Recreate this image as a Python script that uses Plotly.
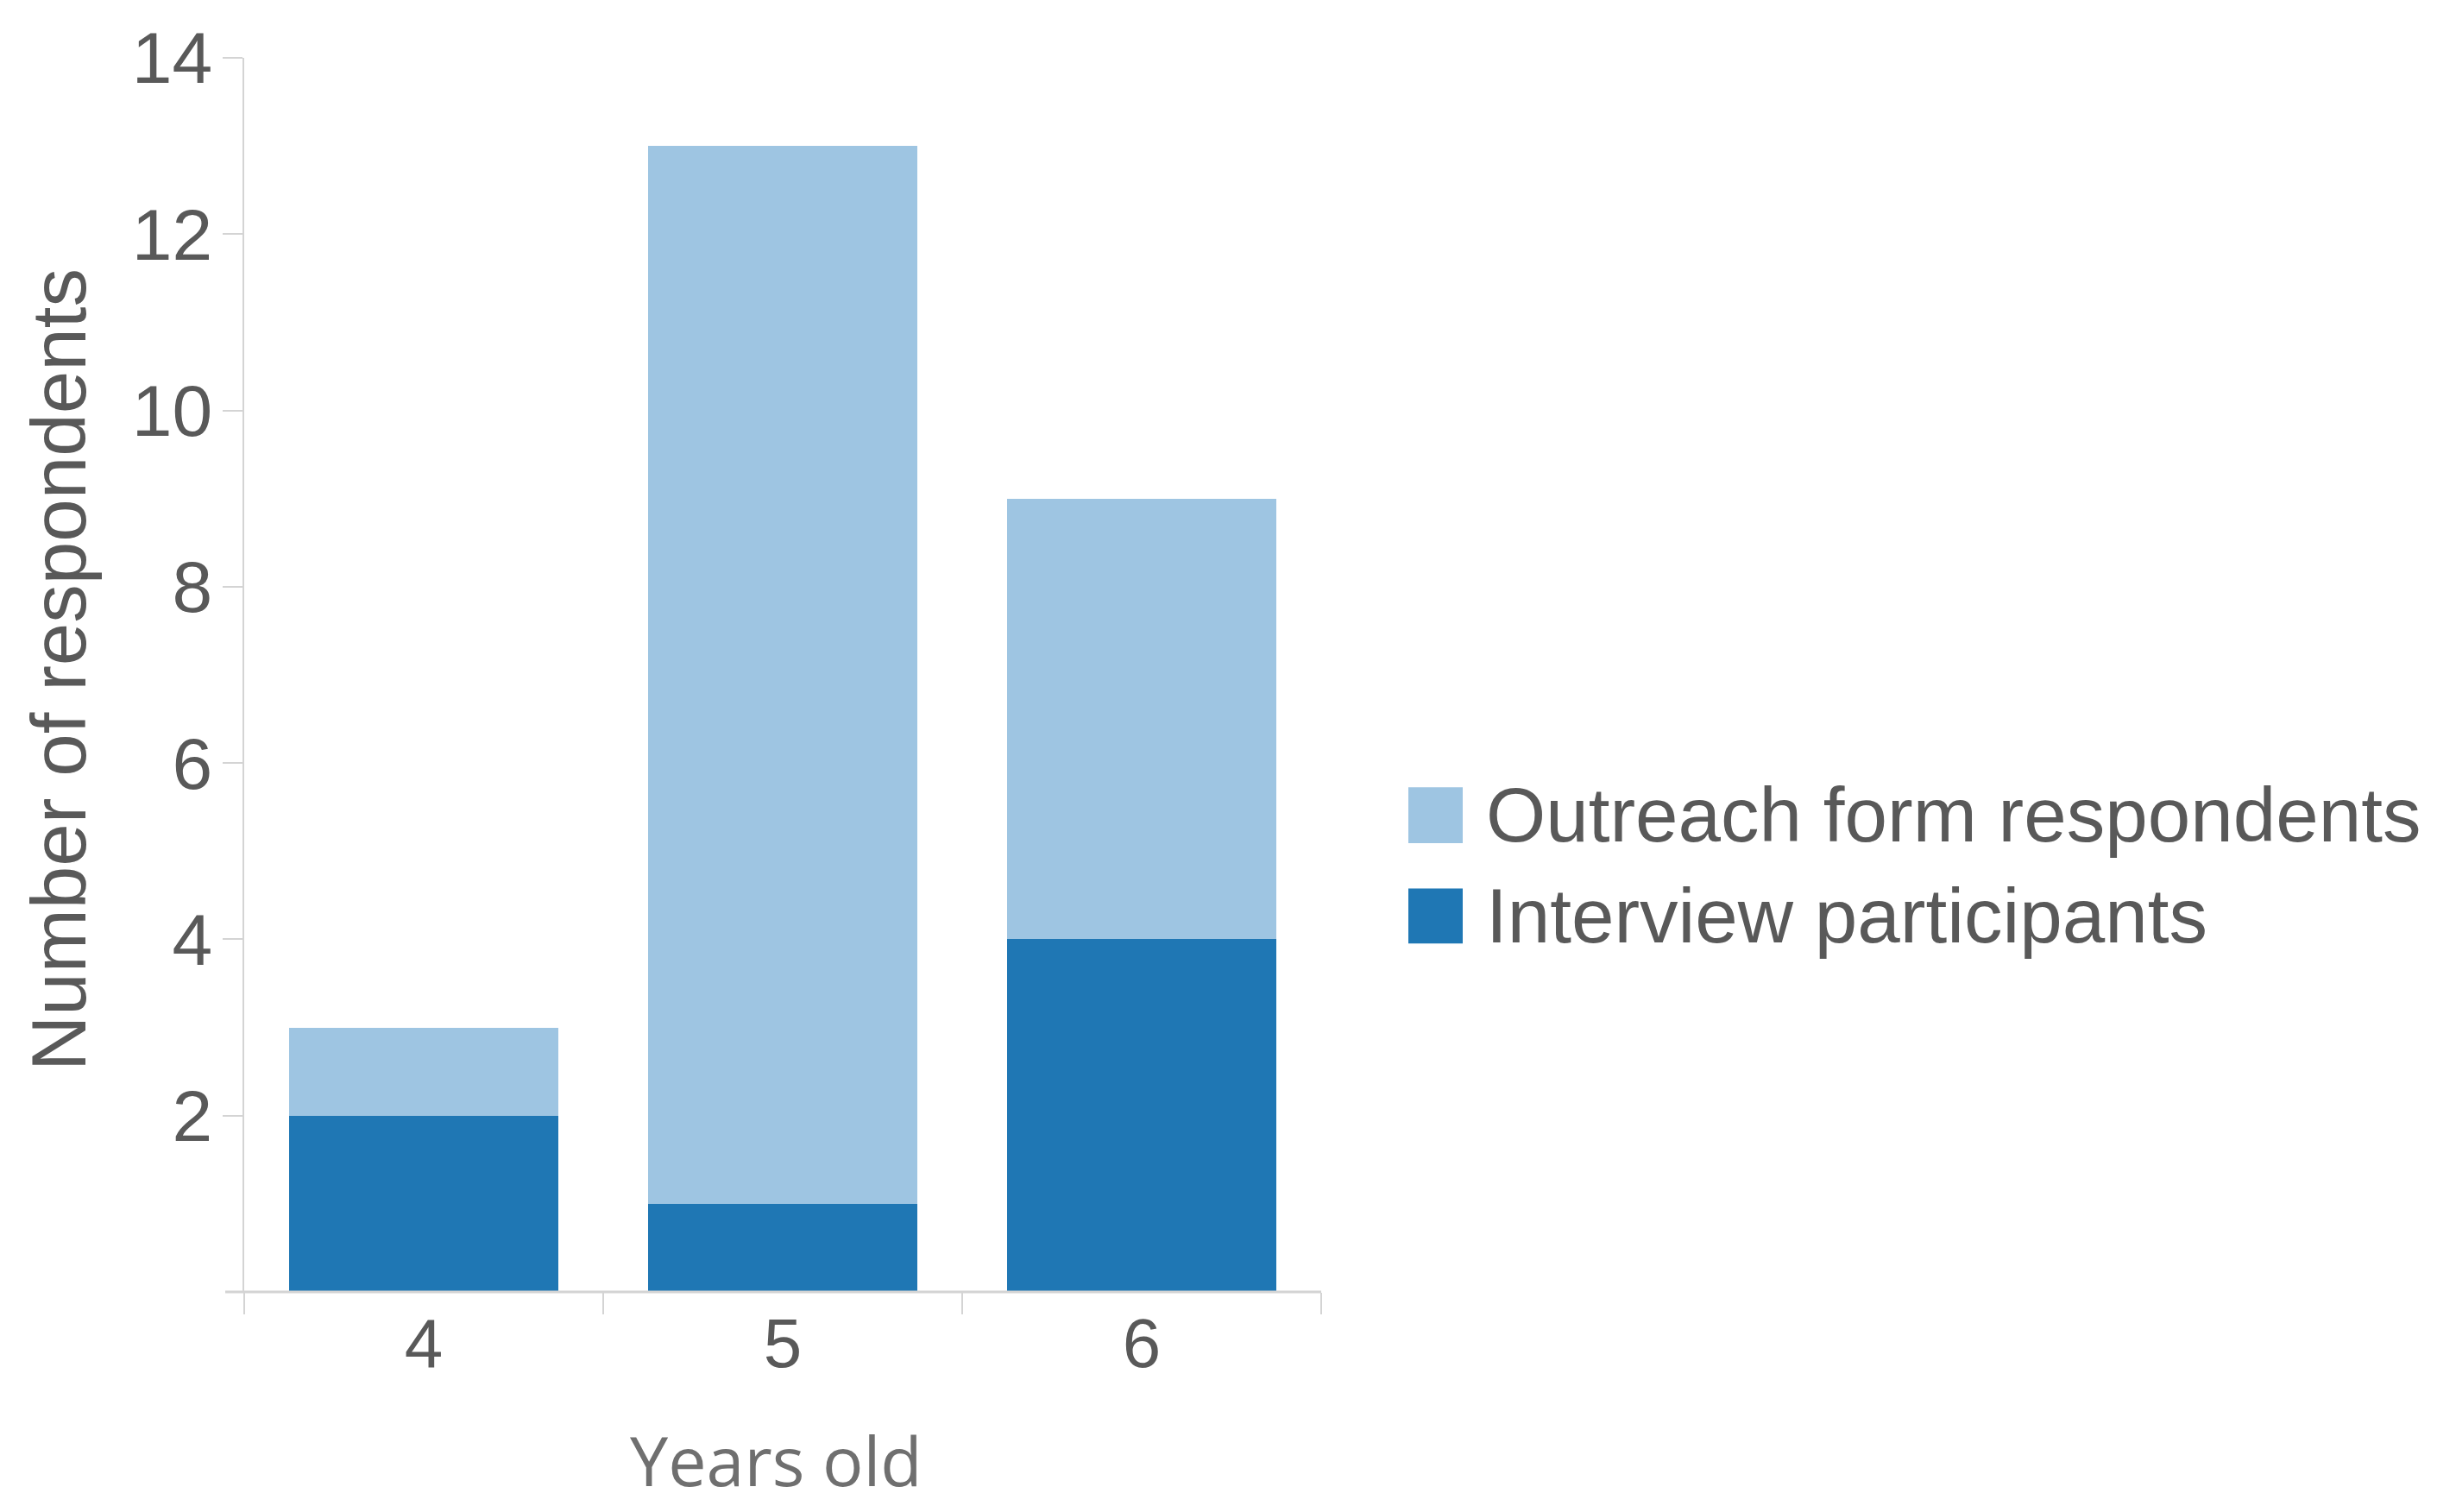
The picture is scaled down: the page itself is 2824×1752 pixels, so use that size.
import plotly.graph_objects as go

categories = ["4", "5", "6"]
interview = [2, 1, 4]
outreach = [1, 12, 5]
series_names = ["Outreach form respondents", "Interview participants"]
y_ticks = [2, 4, 6, 8, 10, 12, 14]

C_LIGHT = "#9ec5e2"
C_DARK = "#1f77b4"
AXIS = "#d4d4d4"
TXT = "#595959"

OFF = 8  # page body margin
W, H = 2824, 1752
L, T = 283 - OFF, 59 - OFF
PR, PB = 1531 - OFF, 1497 - OFF
R, B = W - PR, H - PB
PW, PH = PR - L, PB - T

def px(x):
    return (x - OFF - L) / PW

def py(y):
    return (PB - (y - OFF)) / PH

fig = go.Figure()
fig.add_trace(go.Bar(x=categories, y=interview, name=series_names[1],
                     marker=dict(color=C_DARK, line=dict(width=0))))
fig.add_trace(go.Bar(x=categories, y=outreach, name=series_names[0],
                     marker=dict(color=C_LIGHT, line=dict(width=0))))

fig.update_layout(
    width=W, height=H,
    margin=dict(l=L, r=R, t=T, b=B),
    barmode="stack", bargap=0.25,
    showlegend=False,
    paper_bgcolor="white", plot_bgcolor="white",
    font=dict(family="Liberation Sans, Arial, sans-serif", color=TXT),
)
fig.update_xaxes(
    type="category", showgrid=False, showline=False, zeroline=False,
    ticks="outside", tickson="boundaries", ticklen=25, tickwidth=2, tickcolor=AXIS,
    tickfont=dict(size=80, color=TXT, family="Liberation Sans, Arial, sans-serif"),
    ticklabelstandoff=6,
)
fig.update_yaxes(
    range=[0, 14], tickvals=y_ticks, showgrid=False, zeroline=False,
    showline=True, linecolor=AXIS, linewidth=2,
    ticks="outside", ticklen=23, tickwidth=2, tickcolor=AXIS,
    tickfont=dict(size=84, color=TXT, family="Liberation Sans, Arial, sans-serif"),
    ticklabelstandoff=-5,
)

# x-axis baseline extended slightly to the left of the y axis
fig.add_shape(type="line", xref="paper", yref="paper",
              x0=px(261), x1=1, y0=0, y1=0,
              line=dict(color=AXIS, width=3), layer="above")

# axis titles
fig.add_annotation(text="Number of respondents", xref="paper", yref="paper",
                   x=px(68), y=py(772), textangle=-90, showarrow=False,
                   xanchor="center", yanchor="middle",
                   font=dict(size=89, color=TXT, family="Liberation Sans, Arial, sans-serif"))
fig.add_annotation(text="Years old", xref="paper", yref="paper",
                   x=px(899), y=py(1693), showarrow=False,
                   xanchor="center", yanchor="middle",
                   font=dict(size=79, color="#6f6f6f", family="Open Sans, sans-serif"))

# legend drawn manually (large swatches)
legend_rows = [(series_names[0], C_LIGHT, 909, 974, 941),
               (series_names[1], C_DARK, 1027, 1091, 1059)]
for name, col, y0, y1, yc in legend_rows:
    fig.add_shape(type="rect", xref="paper", yref="paper",
                  x0=px(1632), x1=px(1695), y0=py(y1), y1=py(y0),
                  fillcolor=col, line=dict(width=0))
    fig.add_annotation(text=name, xref="paper", yref="paper",
                       x=px(1720), y=py(yc), showarrow=False,
                       xanchor="left", yanchor="middle",
                       font=dict(size=89, color=TXT, family="Liberation Sans, Arial, sans-serif"))

fig.write_html("out.html")
